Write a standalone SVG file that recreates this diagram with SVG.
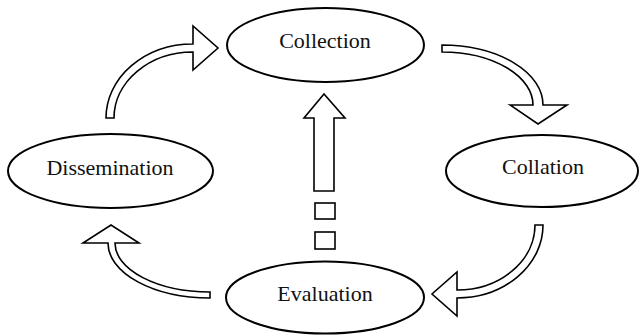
<svg xmlns="http://www.w3.org/2000/svg" width="639" height="335" viewBox="0 0 639 335">
<style>
.node ellipse{fill:#fff;stroke:#000;stroke-width:2}
.node text{font-size:22px;fill:#111;text-anchor:middle}
.conn path,.conn rect{fill:#fff;stroke:#000;stroke-width:1.6;stroke-linejoin:miter}
</style>
<rect width="639" height="335" fill="#fff"/>
<g id="connectors" class="conn">
<path d="M106,118 A87,74 0 0 1 193,44 L193,26 L218,48 L193,70 L193,52 A79,66 0 0 0 114,118 Z"/>
<path d="M442,45 A101,60 0 0 1 543,105 L567,105 L538,124 L510,105 L533,105 A91,53 0 0 0 442,52 Z"/>
<path d="M543,225 A86,73 0 0 1 457,298 L457,316 L432,294 L457,272 L457,290 A78,65 0 0 0 535,225 Z"/>
<path d="M210,298 A102,55 0 0 1 108,243 L83,243 L111,225 L139,243 L115,243 A95,49 0 0 0 210,292 Z"/>
<path d="M314,191 L314,118 L304,118 L324,94 L345,118 L334,118 L334,191 Z"/>
<rect x="315" y="203" width="20" height="16"/>
<rect x="315" y="232" width="20" height="17"/>
</g>
<g id="collection" class="node">
<ellipse cx="325.5" cy="45" rx="98.5" ry="37"/>
<text x="325" y="48" font-family="Liberation Serif, DejaVu Serif, serif">Collection</text>
</g>
<g id="collation" class="node">
<ellipse cx="542" cy="171" rx="96" ry="36"/>
<text x="543" y="174" font-family="Liberation Serif, DejaVu Serif, serif">Collation</text>
</g>
<g id="evaluation" class="node">
<ellipse cx="325" cy="297.5" rx="99" ry="36"/>
<text x="325" y="301" font-family="Liberation Serif, DejaVu Serif, serif">Evaluation</text>
</g>
<g id="dissemination" class="node">
<ellipse cx="110.5" cy="171" rx="102.5" ry="37"/>
<text x="110" y="175" font-family="Liberation Serif, DejaVu Serif, serif">Dissemination</text>
</g>
</svg>
